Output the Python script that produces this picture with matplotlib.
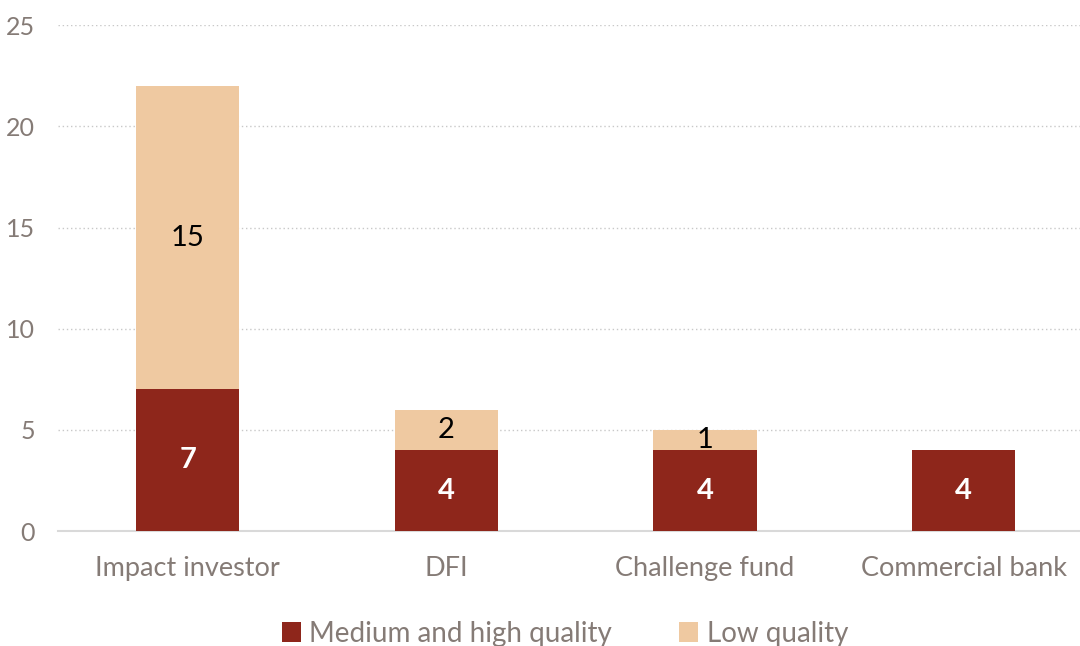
import matplotlib.pyplot as plt
import numpy as np

categories = ['Impact investor', 'DFI', 'Challenge fund', 'Commercial bank']
medium_high = [7, 4, 4, 4]
low = [15, 2, 1, 0]

dark_red = '#8E261B'
light_tan = '#EFC9A1'
grey_text = '#857B76'

plt.rcParams['font.family'] = ['Lato', 'DejaVu Sans']

fig = plt.figure(figsize=(10.8, 6.46), dpi=100)
ax = fig.add_axes([0.054, 0.178, 0.946, 0.783])

x = np.arange(len(categories))
width = 0.4
bars1 = ax.bar(x, medium_high, width, color=dark_red, label='Medium and high quality', zorder=3)
bars2 = ax.bar(x, low, width, bottom=medium_high, color=light_tan, label='Low quality', zorder=3)

# value labels
for bar, v in zip(bars1, medium_high):
    if v > 0:
        ax.text(bar.get_x() + bar.get_width() / 2, bar.get_y() + v / 2, str(v),
                ha='center', va='center', color='white', fontsize=21, fontweight='bold', zorder=4)
for bar, v, b in zip(bars2, low, medium_high):
    if v > 0:
        ax.text(bar.get_x() + bar.get_width() / 2, b + v / 2, str(v),
                ha='center', va='center', color='black', fontsize=21, zorder=4)

ax.set_ylim(0, 25)
ax.set_xlim(-0.5, 3.45)
ax.set_yticks([0, 5, 10, 15, 20, 25])
ax.set_xticks(x)
ax.set_xticklabels(categories)
ax.tick_params(axis='both', length=0, colors=grey_text)
ax.tick_params(axis='x', pad=18, labelsize=19.5)
ax.tick_params(axis='y', pad=17, labelsize=18)

ax.grid(axis='y', color='#C8C8C8', linestyle=(0, (1, 2)), linewidth=1, zorder=0)
for side in ['top', 'right', 'left']:
    ax.spines[side].set_visible(False)
ax.spines['bottom'].set_color('#D9D9D9')
ax.spines['bottom'].set_linewidth(1.5)

leg = fig.legend(loc='lower center', bbox_to_anchor=(0.523, -0.04), ncol=2, frameon=False,
                 fontsize=20, handlelength=0.7, handleheight=0.7, columnspacing=2.4,
                 handletextpad=0.3)
for t in leg.get_texts():
    t.set_color(grey_text)

fig.savefig('out.png', dpi=100)
